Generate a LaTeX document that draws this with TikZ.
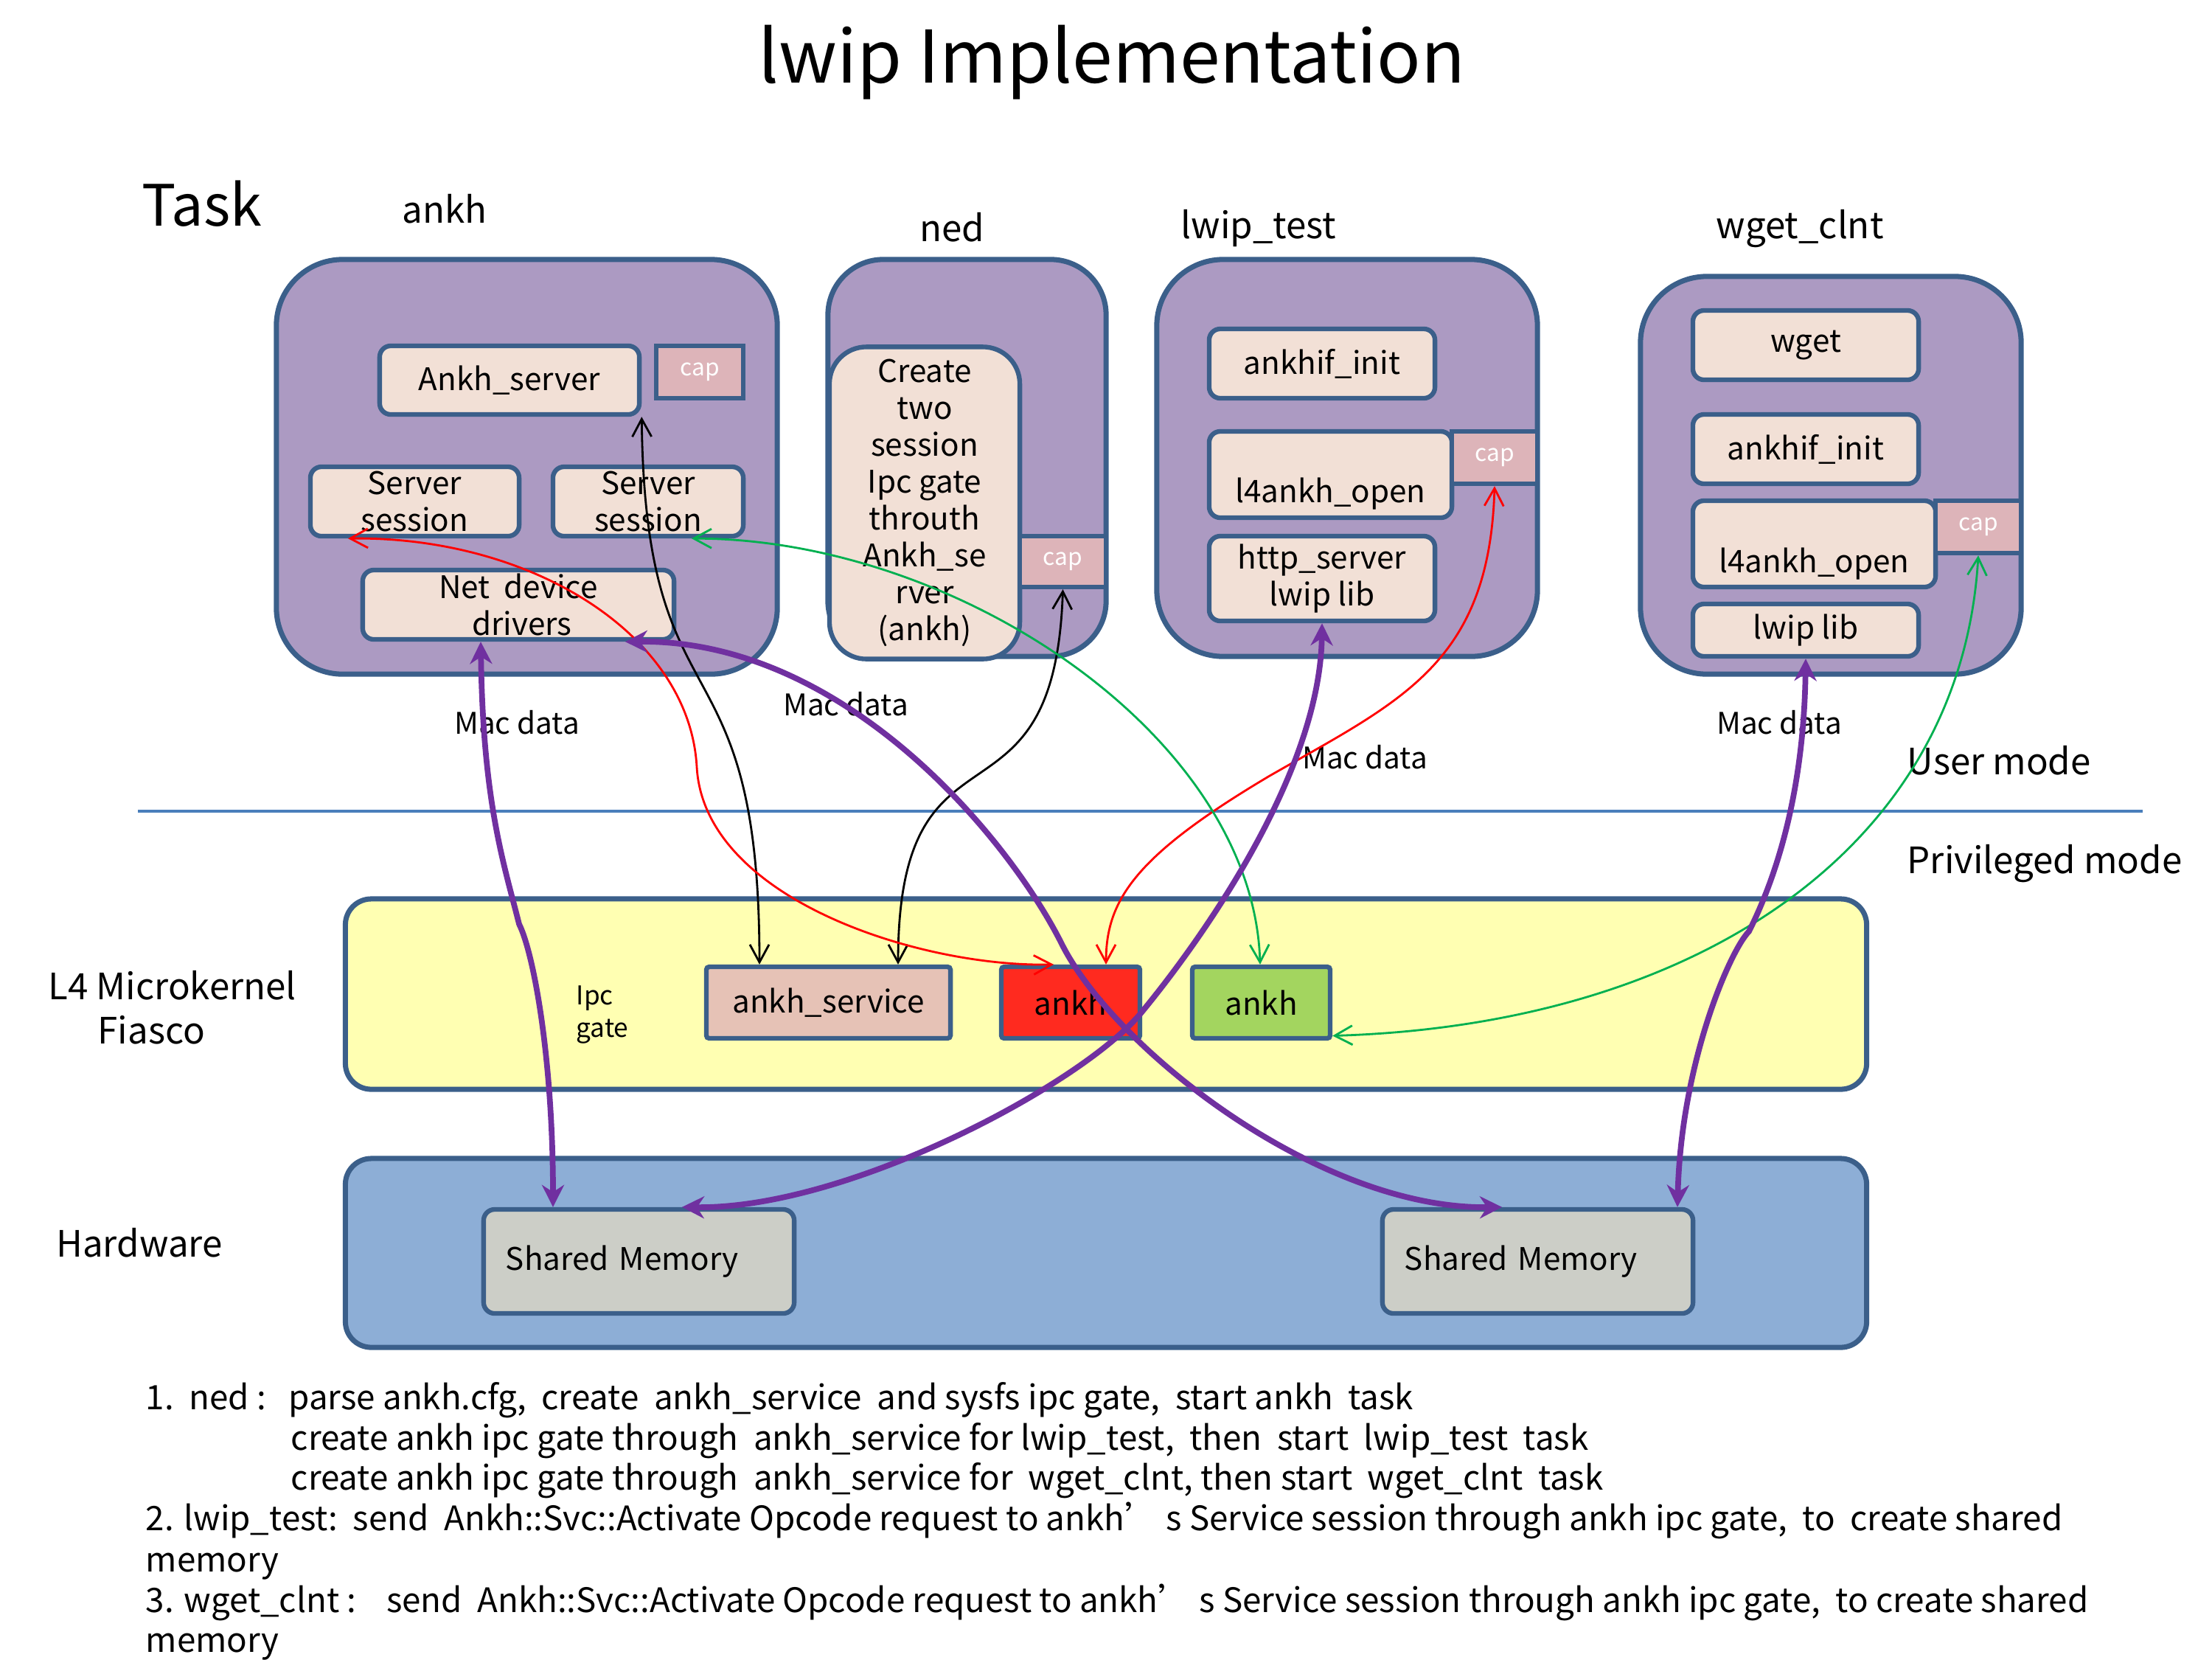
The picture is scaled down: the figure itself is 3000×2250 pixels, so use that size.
\documentclass[tikz,border=0pt]{standalone}
\usepackage{fontspec}
\setmainfont{Noto Sans CJK SC}
\usetikzlibrary{arrows.meta,calc}

\definecolor{taskfill}{HTML}{AC9AC2}
\definecolor{bord}{HTML}{3B5F8A}
\definecolor{peach}{HTML}{F2E0D6}
\definecolor{capfill}{HTML}{DDB4B9}
\definecolor{yel}{HTML}{FFFFB2}
\definecolor{svcfill}{HTML}{E6C2B6}
\definecolor{redbox}{HTML}{FF2A1F}
\definecolor{greenbox}{HTML}{A3D55F}
\definecolor{hwfill}{HTML}{8DAED6}
\definecolor{smfill}{HTML}{CCCEC7}
\definecolor{purp}{HTML}{7030A0}
\definecolor{grn}{HTML}{00B050}
\definecolor{divline}{HTML}{4A7EBB}

\tikzset{
 taskbox/.style={draw=bord, fill=taskfill, line width=2pt, rounded corners=0.9cm, inner sep=0pt},
 inbox/.style={draw=bord, fill=peach, line width=1.8pt, rounded corners=0.15cm, align=center,
   font=\fontsize{12}{14.2}\selectfont, inner sep=0pt},
 capbox/.style={draw=bord, fill=capfill, line width=1.8pt, text=white,
   font=\fontsize{9}{11}\selectfont, inner sep=0pt},
 gatebox/.style={draw=bord, line width=1.8pt, rounded corners=0.04cm, inner sep=0pt,
   font=\fontsize{12}{14.2}\selectfont},
 layerbox/.style={draw=bord, line width=2pt, rounded corners=0.35cm, inner sep=0pt},
 smbox/.style={draw=bord, fill=smfill, line width=1.8pt, rounded corners=0.15cm,
   font=\fontsize{12}{14.2}\selectfont, text width=3.61cm, align=left, inner xsep=0.3cm, inner ysep=0pt},
 lbl/.style={font=\fontsize{14}{17}\selectfont, inner sep=0pt},
 macl/.style={font=\fontsize{11.5}{14}\selectfont, inner sep=0pt},
 foot/.style={font=\fontsize{13}{15.6}\selectfont, inner sep=0pt, anchor=base west},
 purpar/.style={draw=purp, line width=2.2pt, {Stealth[length=3mm,width=3mm]}-{Stealth[length=3mm,width=3mm]}},
 thinar/.style={line width=0.8pt, {Straight Barb[length=2.4mm,width=2.6mm]}-{Straight Barb[length=2.4mm,width=2.6mm]}},
}

\begin{document}
\begin{tikzpicture}[x=0.01cm, y=-0.01cm]
\useasboundingbox (0,0) rectangle (3000,2250);

% titles
\node[font=\fontsize{28}{34}\selectfont, inner sep=0pt] (title) at (1508,85) {lwip Implementation};
\node[font=\fontsize{22}{26}\selectfont, inner sep=0pt] (task) at (274,276) {Task};
\node[lbl] (lankh) at (603,283) {ankh};
\node[lbl] (lned) at (1291,308) {ned};
\node[lbl] (llwip) at (1707,310) {lwip\_test};
\node[lbl] (lwget) at (2441,310) {wget\_clnt};

% ankh task
\node[taskbox, minimum width=6.79cm, minimum height=5.62cm] (ankhT) at (714.5,633) {};
\node[inbox, minimum width=3.52cm, minimum height=0.93cm] (asrv) at (691,515.5) {Ankh\_server};
\node[capbox, minimum width=1.18cm, minimum height=0.71cm] (cap1) at (949,504.5) {cap};
\node[inbox, minimum width=2.83cm, minimum height=0.94cm] (ss1) at (562.5,680) {Server\\session};
\node[inbox, minimum width=2.58cm, minimum height=0.94cm] (ss2) at (879,680) {Server\\session};
\node[inbox, minimum width=4.22cm, minimum height=0.94cm] (ndd) at (703,820) {Net\ \ device\\\ drivers};

% ned task
\node[taskbox, rounded corners=0.75cm, minimum width=3.77cm, minimum height=5.38cm] (nedT) at (1311.5,621) {};
\node[inbox, rounded corners=0.5cm, minimum width=2.58cm, minimum height=4.23cm] (create) at (1254,682)
  {Create\\two\\session\\Ipc gate\\throuth\\Ankh\_se\\rver\\(ankh)};
\node[capbox, minimum width=1.17cm, minimum height=0.69cm] (cap2) at (1441.5,761.5) {cap};

% lwip_test task
\node[taskbox, minimum width=5.16cm, minimum height=5.38cm] (lwipT) at (1827,621) {};
\node[inbox, minimum width=3.06cm, minimum height=0.94cm] (ai1) at (1793,493) {ankhif\_init};
\node[inbox, minimum width=3.29cm, minimum height=1.17cm] (lo1) at (1804.5,643.5) {\strut\\[0cm]l4ankh\_open};
\node[capbox, minimum width=1.16cm, minimum height=0.71cm] (cap3) at (2027,620.5) {cap};
\node[inbox, minimum width=3.06cm, minimum height=1.15cm] (http) at (1793,784.5) {http\_server\\lwip lib};

% wget_clnt task
\node[taskbox, minimum width=5.16cm, minimum height=5.39cm] (wgetT) at (2483,644.5) {};
\node[inbox, minimum width=3.06cm, minimum height=0.94cm] (wget) at (2449,468) {wget};
\node[inbox, minimum width=3.06cm, minimum height=0.94cm] (ai2) at (2449,609) {ankhif\_init};
\node[inbox, minimum width=3.29cm, minimum height=1.17cm] (lo2) at (2460.5,737.5) {\strut\\[0.02cm]l4ankh\_open};
\node[capbox, minimum width=1.16cm, minimum height=0.71cm] (cap4) at (2683,714.5) {cap};
\node[inbox, minimum width=3.06cm, minimum height=0.71cm] (lwiplib) at (2449,854.5) {lwip lib};

% divider
\coordinate (dl) at (187,1100);
\coordinate (dr) at (2906,1100);
\draw[divline, line width=1pt] (dl) -- (dr);
\node[lbl, anchor=west] (umode) at (2586,1031) {User mode};
\node[lbl, anchor=west] (pmode) at (2586,1171) {Privileged mode};

% L4 layer
\node[layerbox, fill=yel, minimum width=20.62cm, minimum height=2.58cm] (l4) at (1500,1348) {};
\node[lbl, align=left, anchor=west] (l4lbl) at (65,1366) {L4 Microkernel\\\hspace*{0.67cm}Fiasco};
\node[font=\fontsize{10}{12.5}\selectfont, inner sep=0pt, align=left, anchor=west] (ipc) at (781,1376) {Ipc\\gate};
\node[gatebox, fill=svcfill, minimum width=3.31cm, minimum height=0.97cm] (asvc) at (1123.5,1359.5) {ankh\_service};
\node[gatebox, fill=redbox, minimum width=1.88cm, minimum height=0.97cm] (ankhR) at (1452,1359.5) {ankh};
\node[gatebox, fill=greenbox, minimum width=1.87cm, minimum height=0.97cm] (ankhG) at (1710.5,1359.5) {ankh};

% hardware layer
\node[layerbox, fill=hwfill, minimum width=20.62cm, minimum height=2.56cm] (hw) at (1500,1699) {};
\node[lbl] (hwlbl) at (189,1685) {Hardware};
\node[smbox, minimum width=4.21cm, minimum height=1.41cm] (sm1) at (866.5,1710.5) {Shared Memory};
\node[smbox, minimum width=4.21cm, minimum height=1.41cm] (sm2) at (2085.5,1710.5) {Shared Memory};

% Mac data labels
\node[macl] (mac1) at (701,980) {Mac data};
\node[macl] (mac2) at (1147,955) {Mac data};
\node[macl] (mac3) at (1851,1027) {Mac data};
\node[macl] (mac4) at (2413,980) {Mac data};

% helper coordinates
\coordinate (k1) at (704,1253);
\coordinate (m3) at (1548,1373);
\coordinate (m2) at (1440,1280);
\coordinate (k4) at (2372,1263);
\coordinate (r7) at (945,1040);
\coordinate (r8) at (1722,1052);

% black arrows
\draw[thinar, black] (asrv.south east) .. controls (875,1000) and (1030,850) .. ($(asvc.north)+(-93.5,0)$);
\draw[thinar, black] (cap2.south) .. controls (1430,1150) and (1218,950) .. ($(asvc.north)+(94.5,0)$);

% red arrows
\draw[thinar, red] ($(ss1.south)+(-90.5,0)$) .. controls (720,727) and (935,860) .. (r7)
   .. controls (955,1220) and (1250,1312) .. ($(ankhR.north)+(-23,0)$);
\draw[thinar, red] (cap3.south) .. controls (2020,900) and (1900,950) .. (r8)
   .. controls (1540,1160) and (1500,1220) .. ($(ankhR.north)+(48,0)$);

% green arrows
\draw[thinar, grn] ($(ss2.south)+(59,0)$) .. controls (1300,730) and (1700,1000) .. ($(ankhG.north)+(-1.5,0)$);
\draw[thinar, grn] (cap4.south) .. controls (2660,1150) and (2300,1390) .. ($(ankhG.east)+(0,45)$);

% purple arrows
\draw[purpar] ($(ndd.south)+(-51,0)$) .. controls +(3,220) and +(-20,-80) .. (k1)
   .. controls +(20,40) and +(0,-200) .. ($(sm1.north)+(-116.5,0)$);
\draw[purpar] ($(ndd.south)+(145,0)$) .. controls (1148,867) and (1370,1140) .. (m2)
   .. controls (1510,1420) and (1787,1640) .. ($(sm2.north)+(-48.5,0)$);
\draw[purpar] (http.south) .. controls (1790,1050) and (1628,1276) .. (m3)
   .. controls (1468,1470) and (1150,1640) .. ($(sm1.north)+(58.5,0)$);
\draw[purpar] (lwiplib.south) .. controls (2446,1090) and (2402,1203) .. (k4)
   .. controls (2347,1288) and (2280,1440) .. ($(sm2.north)+(189.5,0)$);

% footnotes
\node[foot] (f1) at (197,1911) {1.\ \ ned :\ \ \ parse ankh.cfg,\ \ create\ \ ankh\_service\ \ and sysfs ipc gate,\ \ start ankh\ \ task};
\node[foot] (f2) at (394,1966) {create ankh ipc gate through\ \ ankh\_service for lwip\_test,\ \ then\ \ start\ \ lwip\_test\ \ task};
\node[foot] (f3) at (394,2020) {create ankh ipc gate through\ \ ankh\_service for\ \ wget\_clnt, then start\ \ wget\_clnt\ \ task};
\node[foot] (f4) at (197,2075) {2. lwip\_test:\ \ send\ \ Ankh::Svc::Activate Opcode request to ankh’ s Service session through ankh ipc gate,\ \ to\ \ create shared};
\node[foot] (f5) at (197,2131) {memory};
\node[foot] (f6) at (197,2186) {3. wget\_clnt :\ \ \ \ send\ \ Ankh::Svc::Activate Opcode request to ankh’ s Service session through ankh ipc gate,\ \ to create shared};
\node[foot] (f7) at (197,2240) {memory};
\end{tikzpicture}
\end{document}
